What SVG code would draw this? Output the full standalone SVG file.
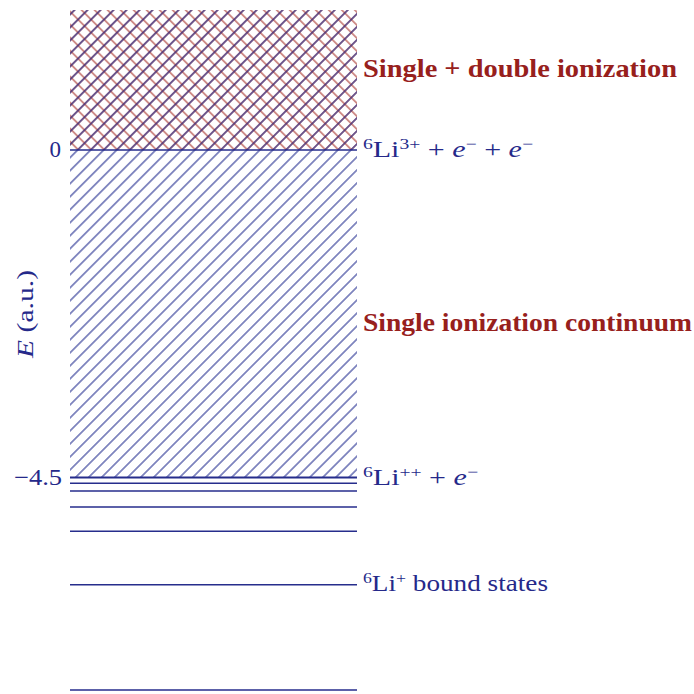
<svg xmlns="http://www.w3.org/2000/svg" width="694" height="694" viewBox="0 0 694 694">
<style>
.lvl{stroke:#262d8c;stroke-width:1.6;fill:none}
.bl{fill:#25298a;font-family:"Liberation Serif","DejaVu Serif",serif;font-size:23px}
.rd{fill:#97201c;font-family:"Liberation Serif","DejaVu Serif",serif;font-size:25px;font-weight:bold}
.it{font-style:italic}
.sup{font-size:15px}
</style>
<defs>
<pattern id="ne" patternUnits="userSpaceOnUse" width="9.2" height="9.2" patternTransform="rotate(45)">
<line x1="4.6" y1="-1" x2="4.6" y2="10.2" stroke="#283192" stroke-width="1.1"/>
</pattern>
<pattern id="nw" patternUnits="userSpaceOnUse" width="9.2" height="9.2" patternTransform="rotate(-45)">
<line x1="4.6" y1="-1" x2="4.6" y2="10.2" stroke="#a52a22" stroke-width="1"/>
</pattern>
<pattern id="ne2" patternUnits="userSpaceOnUse" width="9.2" height="9.2" patternTransform="rotate(45)">
<line x1="4.6" y1="-1" x2="4.6" y2="10.2" stroke="#a52a22" stroke-width="1"/>
</pattern>
</defs>
<g id="double-region">
<rect x="70" y="10" width="287" height="140" fill="url(#nw)"/>
<rect x="70" y="10" width="287" height="140" fill="url(#ne2)"/>
</g>
<g id="single-region">
<rect x="70" y="10" width="287" height="468" fill="url(#ne)"/>
</g>
<g id="levels">
<line class="lvl" x1="70" y1="150" x2="357" y2="150"/>
<line class="lvl" x1="70" y1="477.5" x2="357" y2="477.5" style="stroke-width:2"/>
<line class="lvl" x1="70" y1="483.3" x2="357" y2="483.3"/>
<line class="lvl" x1="70" y1="491" x2="357" y2="491"/>
<line class="lvl" x1="70" y1="507" x2="357" y2="507"/>
<line class="lvl" x1="70" y1="531.3" x2="357" y2="531.3"/>
<line class="lvl" x1="70" y1="584.7" x2="357" y2="584.7"/>
<line class="lvl" x1="70" y1="690" x2="357" y2="690"/>
</g>
<g id="axis-labels">
<text class="bl" x="61" y="157" text-anchor="end">0</text>
<text class="bl" x="62" y="485" text-anchor="end" textLength="48" lengthAdjust="spacingAndGlyphs">−4.5</text>
<text class="bl" transform="translate(33,314) rotate(-90)" text-anchor="middle" textLength="88" lengthAdjust="spacingAndGlyphs"><tspan class="it">E</tspan> (a.u.)</text>
</g>
<g id="region-labels">
<text class="rd" x="363" y="77" textLength="314" lengthAdjust="spacingAndGlyphs">Single + double ionization</text>
<text class="rd" x="363" y="331" textLength="329" lengthAdjust="spacingAndGlyphs">Single ionization continuum</text>
</g>
<g id="level-labels">
<text class="bl" x="363" y="157" textLength="170" lengthAdjust="spacingAndGlyphs"><tspan class="sup" dy="-8">6</tspan><tspan dy="8">Li</tspan><tspan class="sup" dy="-8">3+</tspan><tspan dy="8"> + </tspan><tspan class="it">e</tspan><tspan class="sup" dy="-8">−</tspan><tspan dy="8"> + </tspan><tspan class="it">e</tspan><tspan class="sup" dy="-8">−</tspan></text>
<text class="bl" x="363" y="485" textLength="115" lengthAdjust="spacingAndGlyphs"><tspan class="sup" dy="-8">6</tspan><tspan dy="8">Li</tspan><tspan class="sup" dy="-8">++</tspan><tspan dy="8"> + </tspan><tspan class="it">e</tspan><tspan class="sup" dy="-8">−</tspan></text>
<text class="bl" x="363" y="591" textLength="185" lengthAdjust="spacingAndGlyphs"><tspan class="sup" dy="-8">6</tspan><tspan dy="8">Li</tspan><tspan class="sup" dy="-8">+</tspan><tspan dy="8"> bound states</tspan></text>
</g>
</svg>
